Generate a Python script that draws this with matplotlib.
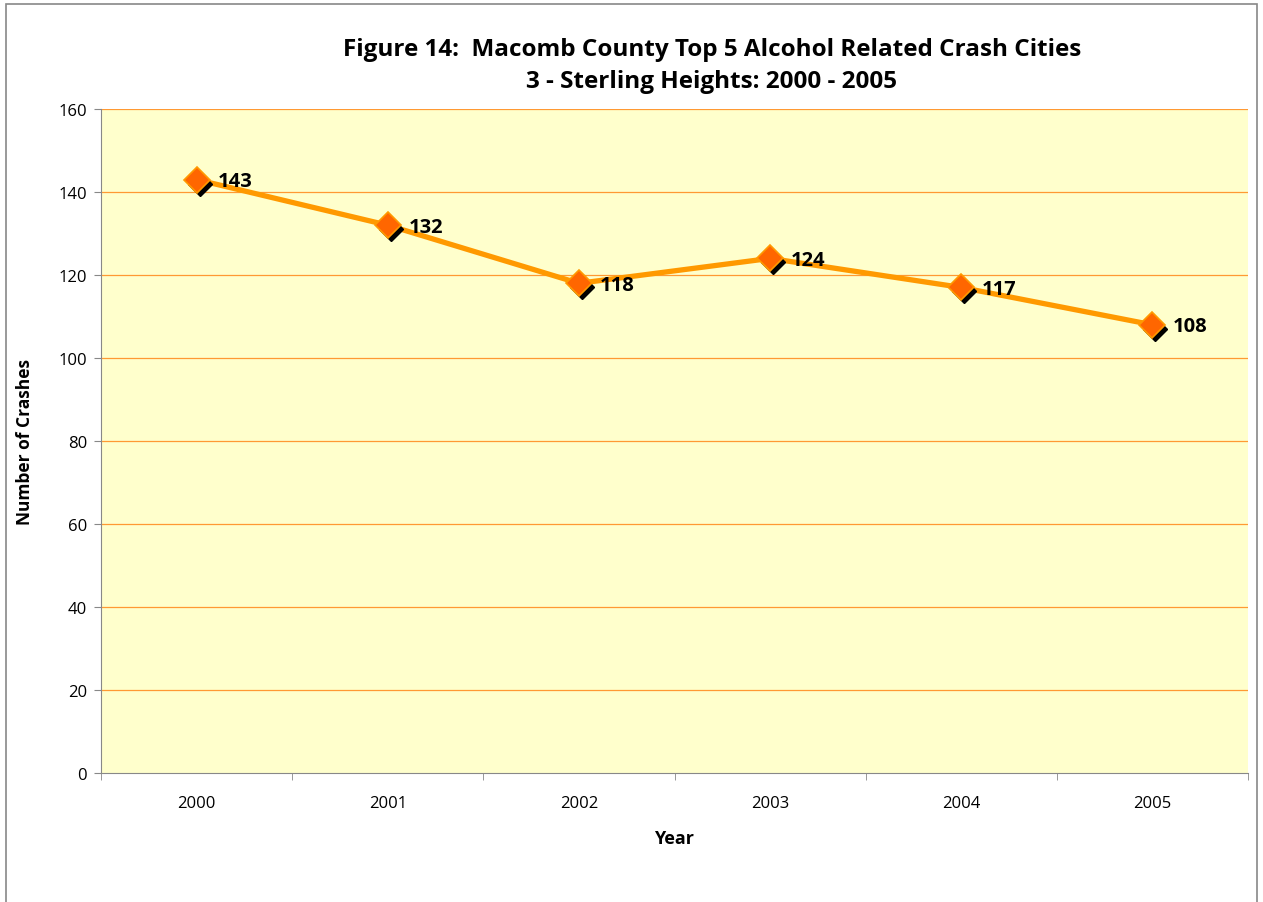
import numpy as np
import matplotlib.pyplot as plt
import matplotlib.transforms as mtransforms
from matplotlib.patches import Rectangle

# data
years = ['2000', '2001', '2002', '2003', '2004', '2005']
crashes = [143, 132, 118, 124, 117, 108]
y_ticks = [0, 20, 40, 60, 80, 100, 120, 140, 160]

plt.rcParams['font.family'] = ['Open Sans', 'DejaVu Sans']

fig = plt.figure(figsize=(12.63, 9.03), dpi=100)
ax = fig.add_axes([101 / 1263, 129 / 903, 1147 / 1263, 664 / 903])

# outer chart border
fig.patches.append(Rectangle((6 / 1263, -0.01), 1251 / 1263, 1 - 5 / 903 + 0.01,
                             transform=fig.transFigure, fill=False,
                             edgecolor='#888888', linewidth=1.2))

ax.set_facecolor('#FFFFCC')
x = np.arange(len(years))
ax.set_xlim(-0.5, len(years) - 0.5)
ax.set_ylim(0, 160)

for y in y_ticks[1:]:
    ax.axhline(y, color='#FF9933', linewidth=0.9, zorder=1)

ax.plot(x, crashes, color='#FF9900', linewidth=3.8, zorder=2)
# marker shadow
shadow = mtransforms.offset_copy(ax.transData, fig=fig, x=3, y=-4, units='dots')
ax.plot(x, crashes, linestyle='none', marker='D', markersize=12,
        color='black', transform=shadow, zorder=3)
ax.plot(x, crashes, linestyle='none', marker='D', markersize=13,
        markerfacecolor='#FF6600', markeredgecolor='#FF9900',
        markeredgewidth=1.2, zorder=4)

for xi, v in zip(x, crashes):
    ax.annotate(str(v), (xi, v), xytext=(15, -1), textcoords='offset points',
                fontsize=14.5, fontweight='bold', va='center', ha='left', zorder=5)

ax.set_yticks(y_ticks)
ax.set_xticks(x)
ax.set_xticklabels(years)
ax.set_xticks(np.arange(-0.5, len(years)), minor=True)
ax.tick_params(axis='x', which='major', length=0, pad=16, labelsize=12)
ax.tick_params(axis='x', which='minor', length=5, color='#888888')
ax.tick_params(axis='y', length=5, color='#888888', labelsize=12, pad=5)

for side in ['top', 'right']:
    ax.spines[side].set_visible(False)
for side in ['left', 'bottom']:
    ax.spines[side].set_color('#888888')

ax.set_xlabel('Year', fontsize=13, fontweight='bold')
ax.xaxis.set_label_coords(0.5, -56 / 664)
ax.set_ylabel('Number of Crashes', fontsize=12.5, fontweight='bold')
ax.yaxis.set_label_coords(-67 / 1147, 0.5)

fig.text(712 / 1263, 1 - 66 / 903,
         'Figure 14:  Macomb County Top 5 Alcohol Related Crash Cities\n3 - Sterling Heights: 2000 - 2005',
         ha='center', va='center', fontsize=17.5, fontweight='bold', linespacing=1.5)

fig.savefig('out.png', dpi=100)
